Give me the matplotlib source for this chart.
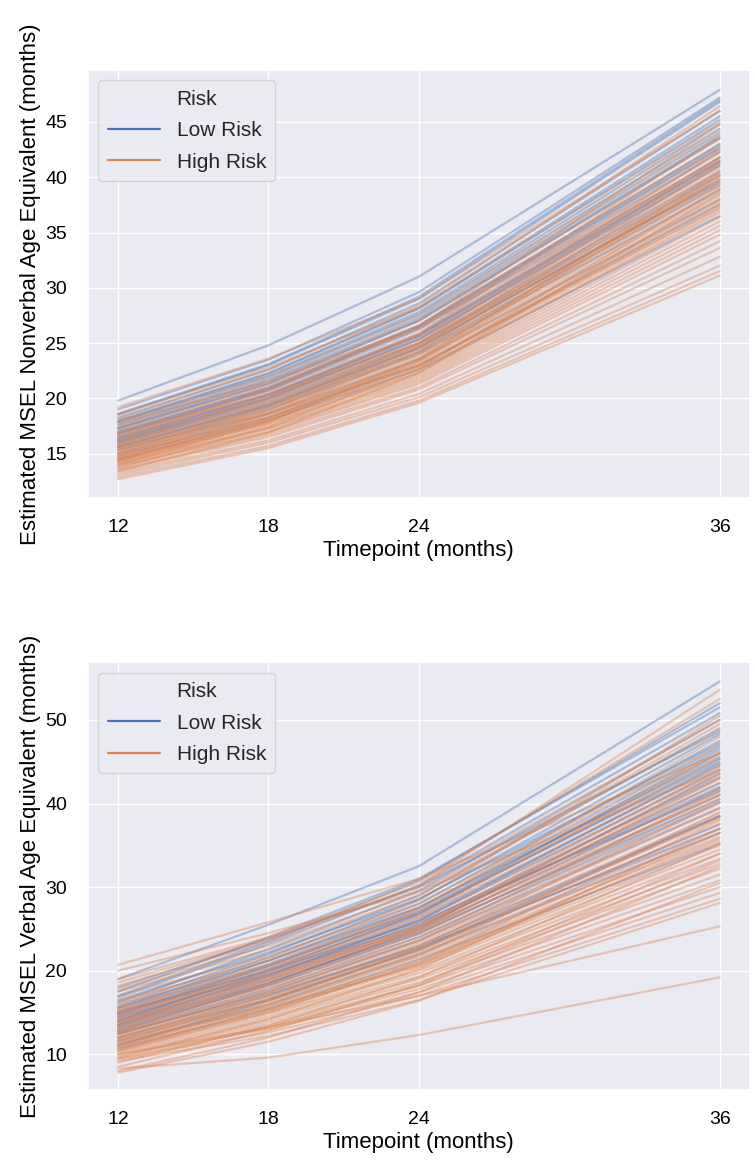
import numpy as np
import seaborn as sns
from matplotlib import pyplot as plt
from matplotlib.lines import Line2D

# estimated trajectories per child: values at 12, 18, 24, 36 months
timepoints = [12, 18, 24, 36]
group_names = ['Low Risk', 'High Risk']

nv_low = [
    [19.8, 24.8, 31.0, 47.9], [19.0, 23.5, 29.6, 47.2], [18.5, 23.0, 29.0, 46.8],
    [18.2, 22.6, 28.6, 46.0], [18.0, 22.3, 28.2, 45.5], [17.8, 22.0, 27.8, 44.8],
    [17.6, 21.8, 27.6, 44.4], [17.4, 21.6, 27.3, 44.0], [17.2, 21.3, 27.0, 43.5],
    [17.0, 21.0, 26.6, 43.0], [16.9, 20.9, 26.5, 42.8], [16.7, 20.7, 26.2, 42.3],
    [16.5, 20.4, 25.8, 41.8], [16.4, 20.3, 25.7, 41.5], [16.2, 20.0, 25.3, 41.0],
    [16.0, 19.8, 25.0, 40.5], [15.9, 19.6, 24.8, 40.2], [15.7, 19.4, 24.5, 39.8],
    [15.5, 19.2, 24.2, 39.3], [15.3, 19.0, 24.0, 38.8], [15.0, 18.6, 23.5, 38.0],
    [14.8, 18.3, 23.0, 37.5], [17.9, 22.2, 28.1, 45.2], [16.8, 20.8, 26.4, 42.6],
    [16.1, 20.0, 25.4, 41.2], [15.6, 19.4, 24.6, 39.6], [18.6, 23.1, 29.2, 47.0],
    [17.3, 21.4, 27.1, 43.7], [16.3, 20.2, 25.6, 41.4], [14.5, 18.0, 22.6, 36.5],
]
nv_high = [
    [19.2, 23.6, 29.0, 46.0], [18.6, 22.8, 28.2, 45.0], [18.0, 22.0, 27.5, 44.2],
    [17.6, 21.6, 27.0, 43.5], [17.3, 21.2, 26.6, 43.0], [17.0, 21.0, 26.3, 42.6],
    [16.8, 20.6, 25.9, 42.2], [16.6, 20.4, 25.6, 41.8], [16.4, 20.1, 25.3, 41.4],
    [16.2, 19.9, 25.0, 41.0], [16.0, 19.7, 24.8, 40.7], [15.9, 19.5, 24.6, 40.4],
    [15.7, 19.3, 24.4, 40.1], [15.6, 19.2, 24.2, 39.8], [15.4, 19.0, 24.0, 39.5],
    [15.3, 18.8, 23.8, 39.2], [15.2, 18.7, 23.6, 38.9], [15.0, 18.5, 23.4, 38.6],
    [14.9, 18.3, 23.2, 38.3], [14.8, 18.2, 23.0, 38.0], [14.7, 18.1, 22.9, 37.8],
    [14.6, 18.0, 22.8, 37.6], [14.5, 17.8, 22.6, 37.3], [14.4, 17.7, 22.4, 37.0],
    [14.3, 17.6, 22.3, 36.8], [14.2, 17.4, 22.1, 36.4], [14.1, 17.3, 21.9, 36.0],
    [14.0, 17.2, 21.7, 35.6], [13.9, 17.0, 21.5, 35.2], [13.8, 16.9, 21.3, 34.8],
    [13.6, 16.7, 21.0, 34.2], [13.5, 16.5, 20.8, 33.6], [13.3, 16.2, 20.4, 32.8],
    [13.1, 16.0, 20.1, 32.0], [12.9, 15.7, 19.8, 31.5], [12.7, 15.5, 19.6, 31.1],
    [16.5, 20.8, 26.5, 44.8], [15.8, 20.0, 25.8, 43.8], [15.1, 19.3, 25.0, 42.4],
    [14.6, 18.6, 24.2, 41.2], [14.0, 17.9, 23.3, 40.0], [13.7, 17.4, 22.7, 39.0],
    [17.8, 21.5, 26.4, 41.6], [16.9, 20.3, 25.0, 39.5], [15.5, 18.6, 23.0, 37.2],
    [14.3, 17.9, 23.5, 40.5], [13.4, 16.9, 22.3, 38.5], [18.3, 22.6, 28.4, 46.4],
    [15.0, 18.9, 24.6, 41.8], [14.4, 18.2, 23.6, 40.2],
]
vb_low = [
    [19.0, 25.5, 32.5, 54.6], [17.5, 24.0, 31.0, 51.5], [16.8, 23.2, 30.2, 50.8],
    [16.2, 22.6, 29.6, 50.0], [15.8, 22.0, 29.0, 49.0], [15.5, 21.6, 28.5, 48.3],
    [15.2, 21.2, 28.0, 47.5], [15.0, 20.8, 27.5, 46.8], [14.7, 20.5, 27.2, 46.0],
    [14.5, 20.2, 26.8, 45.3], [14.2, 19.8, 26.3, 44.5], [14.0, 19.5, 26.0, 44.0],
    [13.8, 19.2, 25.6, 43.2], [13.5, 18.9, 25.2, 42.5], [13.2, 18.5, 24.8, 41.8],
    [13.0, 18.2, 24.4, 41.0], [12.7, 17.8, 24.0, 40.2], [12.4, 17.5, 23.6, 39.5],
    [12.0, 17.0, 23.0, 38.5], [11.6, 16.5, 22.5, 37.5], [11.2, 16.0, 22.0, 36.5],
    [10.6, 15.4, 21.3, 35.2], [16.5, 22.2, 28.6, 47.2], [15.6, 21.2, 27.6, 45.6],
    [14.8, 20.6, 27.0, 45.0], [14.0, 20.0, 26.8, 46.5], [13.6, 19.4, 26.0, 44.8],
    [12.8, 18.4, 25.0, 43.6], [18.0, 23.8, 30.0, 48.6], [15.0, 20.0, 25.8, 41.5],
    [12.5, 17.2, 22.8, 37.0], [14.4, 19.6, 25.4, 42.0], [17.0, 23.5, 30.8, 52.0],
    [11.0, 16.4, 22.6, 38.5], [13.4, 18.6, 24.6, 40.5],
]
vb_high = [
    [20.7, 25.8, 31.0, 46.0], [20.0, 24.5, 29.5, 44.0], [19.0, 24.0, 30.0, 50.0],
    [18.2, 23.5, 30.2, 53.6], [17.5, 22.5, 29.0, 49.5], [17.0, 21.8, 28.0, 47.0],
    [16.4, 21.2, 27.5, 46.2], [16.0, 20.7, 27.0, 45.4], [15.6, 20.3, 26.5, 44.6],
    [15.2, 19.9, 26.0, 43.8], [14.9, 19.5, 25.5, 43.0], [14.6, 19.2, 25.2, 42.4],
    [14.3, 18.9, 24.8, 41.8], [14.0, 18.5, 24.4, 41.2], [13.8, 18.2, 24.0, 40.6],
    [13.5, 17.9, 23.6, 40.0], [13.2, 17.6, 23.3, 39.4], [13.0, 17.3, 23.0, 38.8],
    [12.8, 17.0, 22.6, 38.2], [12.6, 16.8, 22.3, 37.6], [12.4, 16.5, 22.0, 37.0],
    [12.2, 16.3, 21.7, 36.5], [12.0, 16.0, 21.4, 36.0], [11.8, 15.8, 21.0, 35.5],
    [11.6, 15.5, 20.7, 35.0], [11.4, 15.3, 20.4, 34.5], [11.2, 15.0, 20.0, 34.0],
    [11.0, 14.8, 19.7, 33.4], [10.8, 14.5, 19.3, 32.8], [10.6, 14.2, 19.0, 32.2],
    [10.4, 13.9, 18.6, 31.5], [10.2, 13.6, 18.2, 30.8], [10.0, 13.3, 17.8, 30.0],
    [9.8, 13.0, 17.4, 29.3], [9.5, 12.6, 17.0, 28.6], [9.2, 12.2, 16.5, 28.1],
    [10.0, 13.2, 17.0, 25.3], [8.3, 9.6, 12.3, 19.2], [16.2, 21.5, 28.4, 50.5],
    [15.4, 20.6, 27.4, 48.0], [14.8, 20.0, 26.6, 46.0], [14.0, 19.0, 25.3, 44.2],
    [13.2, 18.2, 24.5, 43.0], [12.5, 17.4, 23.6, 41.5], [11.8, 16.6, 22.8, 40.2],
    [11.0, 15.8, 21.8, 39.0], [10.4, 15.0, 21.0, 38.0], [9.6, 14.2, 20.2, 37.0],
    [9.0, 13.4, 19.2, 35.2], [8.5, 12.8, 18.4, 34.0], [8.0, 12.0, 17.4, 32.5],
    [7.8, 11.5, 16.4, 30.5], [17.8, 23.0, 29.4, 48.8], [13.6, 18.8, 25.0, 43.5],
    [12.0, 16.6, 22.4, 38.4], [10.8, 15.2, 20.8, 36.4], [9.4, 13.2, 18.2, 33.2],
    [15.0, 19.4, 25.0, 41.0], [11.5, 15.6, 20.6, 35.8], [18.6, 23.8, 30.6, 52.5],
]

sns.set_theme(style='darkgrid')
plt.rcParams['font.family'] = ['Liberation Sans', 'DejaVu Sans']

colors = sns.color_palette()[:2]

fig = plt.figure(figsize=(7.55, 11.66), dpi=100)
ax_top = fig.add_axes([0.1166, 0.573, 0.8764, 0.367])
ax_bot = fig.add_axes([0.1166, 0.065, 0.8764, 0.367])


def draw_panel(ax, low, high, ylabel, ylim, yticks):
    for data, col in zip([low, high], colors):
        for row in data:
            ax.plot(timepoints, row, color=col, alpha=0.4, lw=1.6)
    ax.set_xticks(timepoints)
    ax.set_yticks(yticks)
    ax.set_ylim(*ylim)
    ax.set_xlim(10.8, 37.2)
    ax.tick_params(labelsize=14, colors='black', pad=9)
    ax.set_xlabel('Timepoint (months)', fontsize=16, color='black', labelpad=3)
    ax.set_ylabel(ylabel, fontsize=16, color='black', labelpad=3)
    # seaborn style legend with the hue name as a first entry
    handles = [Line2D([], [], color='none')]
    handles += [Line2D([], [], color=c, lw=1.6) for c in colors]
    labels = ['Risk'] + group_names
    ax.legend(handles, labels, loc='upper left', fontsize=15,
              handlelength=2.5, borderpad=0.45, labelspacing=0.6)


draw_panel(ax_top, nv_low, nv_high,
           'Estimated MSEL Nonverbal Age Equivalent (months)',
           (11.0, 49.7), [15, 20, 25, 30, 35, 40, 45])
draw_panel(ax_bot, vb_low, vb_high,
           'Estimated MSEL Verbal Age Equivalent (months)',
           (5.7, 56.9), [10, 20, 30, 40, 50])

fig.savefig('out.png', dpi=100)
